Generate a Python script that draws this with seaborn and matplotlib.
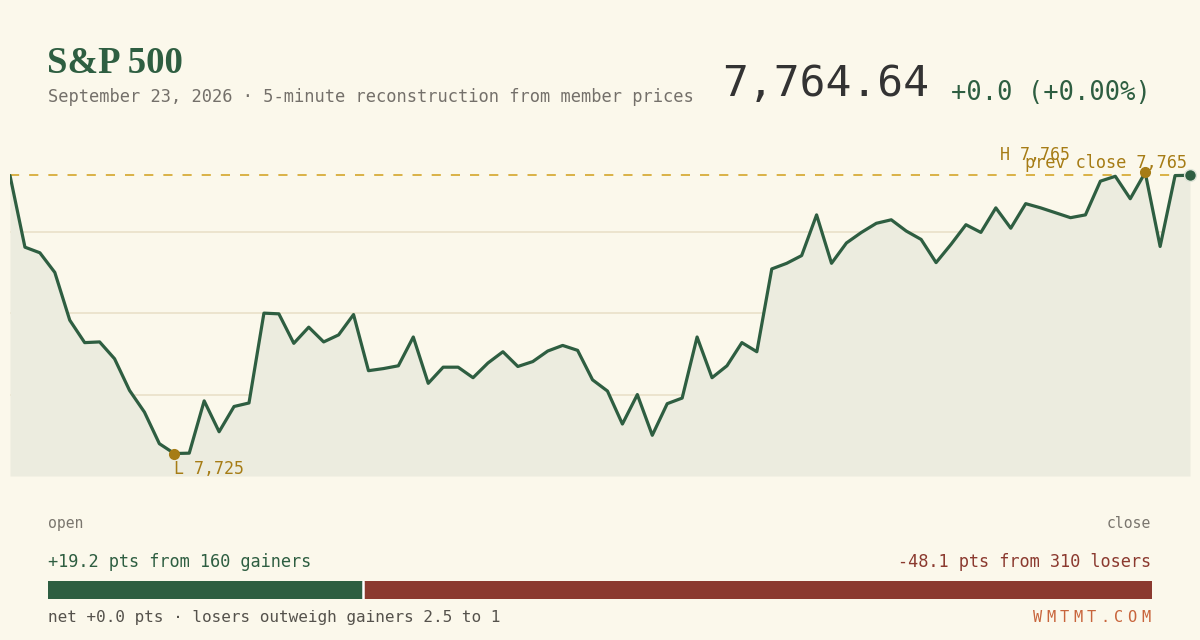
import pandas as pd
import matplotlib
matplotlib.use("Agg")
import matplotlib.pyplot as plt
import seaborn as sns

# intraday 5-minute reconstruction
prices = [7764.6, 7754.4, 7753.6, 7750.8, 7744.0, 7740.8, 7740.9, 7738.5, 7734.0, 7730.9,
          7726.4, 7725.0, 7725.05, 7732.5, 7728.1, 7731.7, 7732.2, 7745.0, 7744.9, 7740.7,
          7743.0, 7740.9, 7741.9, 7744.8, 7736.8, 7737.1, 7737.5, 7741.6, 7735.0, 7737.3,
          7737.3, 7735.8, 7737.9, 7739.5, 7737.4, 7738.1, 7739.6, 7740.4, 7739.7, 7735.5,
          7733.9, 7729.2, 7733.4, 7727.6, 7732.1, 7732.9, 7741.6, 7735.8, 7737.5, 7740.8,
          7739.5, 7751.3, 7752.1, 7753.2, 7759.0, 7752.1, 7755.0, 7756.5, 7757.8, 7758.3,
          7756.7, 7755.5, 7752.2, 7754.8, 7757.6, 7756.5, 7760.0, 7757.1, 7760.6, 7760.0,
          7759.3, 7758.6, 7759.0, 7763.8, 7764.5, 7761.3, 7765.04, 7754.5, 7764.6, 7764.64]
prev_close = 7764.64
last_price = 7764.64
change_pts = 0.0
change_pct = 0.00
gainer_pts = 19.2
loser_pts = 48.1
gainers = 160
losers = 310
site = "WMTMT.COM"

BG = "#FBF8EB"
GREEN = "#2E5E41"
RED = "#8B3A2F"
GOLD = "#D4A62A"
GOLD_DARK = "#A67C15"
MONO = "DejaVu Sans Mono"

df = pd.DataFrame({"step": range(len(prices)), "price": prices})
lo, hi = df["price"].min(), df["price"].max()
pad = (hi - lo) * 0.08
ymin, ymax = lo - pad, hi + pad

sns.set_style("white")
plt.rcParams["font.family"] = [MONO, "DejaVu Sans"]

fig = plt.figure(figsize=(12, 6.4), dpi=100, facecolor=BG)
W, H = 1200, 640


def fx(px):
    return px / W


def fy(py):
    return 1 - py / H


ax = fig.add_axes([fx(10), fy(476), fx(1180), 326 / H])
ax.set_facecolor(BG)
ax.fill_between(df["step"], df["price"], ymin, color="#ECECDF", lw=0, zorder=1)
ax.set_yticks([ymin + (ymax - ymin) * f for f in (0.25, 0.5, 0.75)])
ax.grid(axis="y", color="#E9E1C9", lw=1.2, zorder=0)
ax.set_axisbelow(True)
ax.axhline(prev_close, color=GOLD, lw=1.2, ls=(0, (5.5, 6)), zorder=2)
sns.lineplot(data=df, x="step", y="price", color=GREEN, linewidth=2.3, ax=ax, zorder=3)
ax.set_xlim(0, len(prices) - 1)
ax.set_ylim(ymin, ymax)
ax.set_xticks([])
ax.tick_params(left=False, labelleft=False)
ax.set_xlabel("")
ax.set_ylabel("")
for s in ax.spines.values():
    s.set_visible(False)

i_lo = df["price"].idxmin()
i_hi = df["price"].idxmax()
ax.plot([i_lo, i_hi], [lo, hi], "o", color=GOLD_DARK, ms=7, zorder=4, clip_on=False)
ax.plot(df["step"].iloc[-1], last_price, "o", color=GREEN, ms=8.5, mec="#DDE3D6",
        mew=1, zorder=5, clip_on=False)

ax.annotate(f"L {lo:,.0f}", (i_lo, lo), xytext=(0, -20), textcoords="offset pixels",
            ha="left", va="baseline", color=GOLD_DARK, fontsize=12, family=MONO)
ax.annotate(f"H {hi:,.0f}", (i_hi, hi), xytext=(-145, 12), textcoords="offset pixels",
            ha="left", va="baseline", color=GOLD_DARK, fontsize=12, family=MONO)
ax.annotate(f"prev close {prev_close:,.0f}", (len(prices) - 1, prev_close), xytext=(-3, 7),
            textcoords="offset pixels", ha="right", va="baseline", color=GOLD_DARK,
            fontsize=12.2, family=MONO)

# header
fig.text(fx(47), fy(73), "S&P 500", family="Liberation Serif", fontweight="bold",
         fontsize=26.5, color=GREEN, va="baseline")
fig.text(fx(48), fy(102), "September 23, 2026 · 5-minute reconstruction from member prices",
         fontsize=12.25, color="#74706A", va="baseline")
fig.text(fx(929), fy(96), f"{last_price:,.2f}", fontsize=31, color="#333333",
         ha="right", va="baseline")
fig.text(fx(1151), fy(100), f"{change_pts:+.1f} ({change_pct:+.2f}%)", fontsize=18.4,
         color=GREEN, ha="right", va="baseline")

# footer
fig.text(fx(48), fy(528), "open", fontsize=10.6, color="#7A766E", va="baseline")
fig.text(fx(1151), fy(528), "close", fontsize=10.6, color="#7A766E", ha="right", va="baseline")
fig.text(fx(48), fy(567), f"+{gainer_pts} pts from {gainers} gainers", fontsize=12.2,
         color=GREEN, va="baseline")
fig.text(fx(1151), fy(567), f"-{loser_pts} pts from {losers} losers", fontsize=12.2,
         color=RED, ha="right", va="baseline")

bax = fig.add_axes([fx(48), fy(599), fx(1104), 18 / H])
bax.barh(0, gainer_pts, height=1, color=GREEN, lw=0)
bax.barh(0, loser_pts, left=gainer_pts, height=1, color=RED, lw=0)
bax.axvline(gainer_pts, color="white", lw=1.8)
bax.set_xlim(0, gainer_pts + loser_pts)
bax.set_ylim(-0.5, 0.5)
bax.axis("off")

fig.text(fx(48), fy(622),
         f"net {change_pts:+.1f} pts · losers outweigh gainers {loser_pts / gainer_pts:.1f} to 1",
         fontsize=11.5, color="#55524C", va="baseline")
# letter-spaced site mark
step = 13.5
x0 = 1150 - step * (len(site) - 1)
for k, ch in enumerate(site):
    fig.text(fx(x0 + k * step), fy(622), ch, fontsize=11, color="#C8653C",
             ha="right", va="baseline")

fig.savefig("out.png", dpi=100, facecolor=BG)
